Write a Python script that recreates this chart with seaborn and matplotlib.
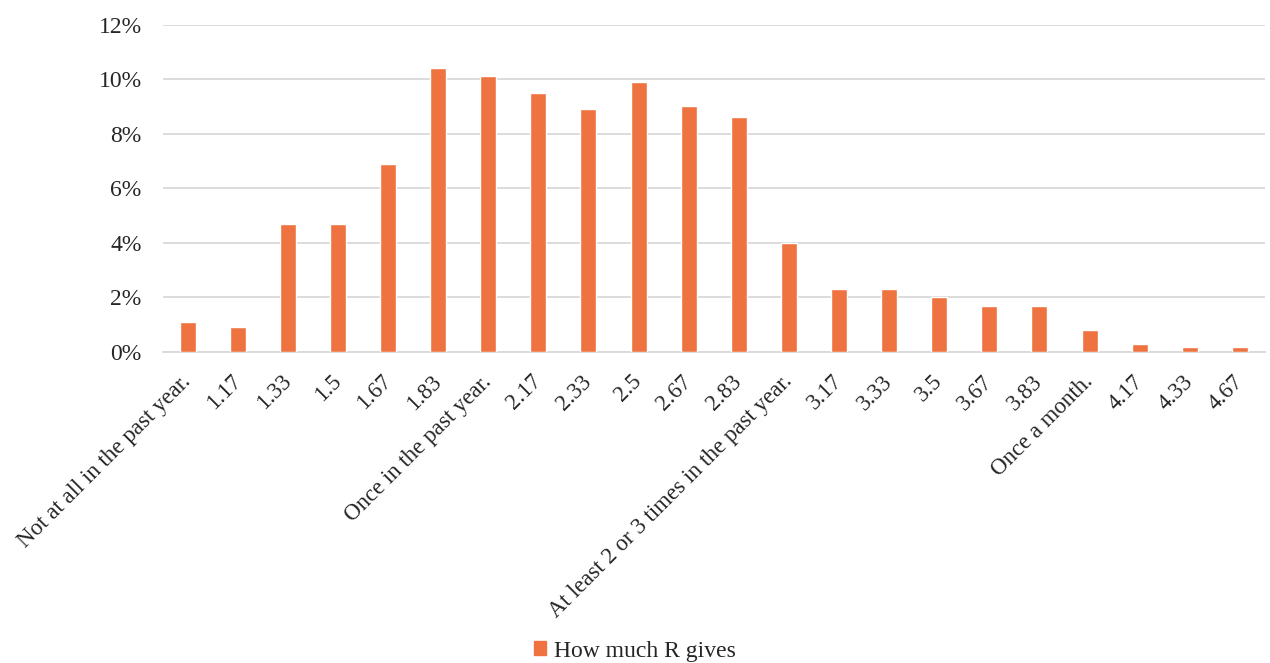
import matplotlib
matplotlib.use("Agg")
import matplotlib.pyplot as plt
import seaborn as sns
import pandas as pd
from matplotlib.ticker import PercentFormatter
from matplotlib.patches import Patch

categories = ["Not at all in the past year.", "1.17", "1.33", "1.5", "1.67", "1.83",
              "Once in the past year.", "2.17", "2.33", "2.5", "2.67", "2.83",
              "At least 2 or 3 times in the past year.", "3.17", "3.33", "3.5", "3.67",
              "3.83", "Once a month.", "4.17", "4.33", "4.67"]
share = [1.1, 0.9, 4.7, 4.7, 6.9, 10.4, 10.1, 9.5, 8.9, 9.9, 9.0, 8.6,
         4.0, 2.3, 2.3, 2.0, 1.7, 1.7, 0.8, 0.3, 0.2, 0.2]
series_name = "How much R gives"

bar_color = "#EE7340"
grid_color = "#D9D9D9"

sns.set_style("white")
plt.rcParams["font.family"] = ["Liberation Serif", "DejaVu Serif"]

df = pd.DataFrame({"category": categories, "share": share})

fig = plt.figure(figsize=(12.7, 6.63), dpi=100)
ax = fig.add_axes([0.128, 0.469, 0.868, 0.494])

sns.barplot(data=df, x="category", y="share", color=bar_color, width=0.32,
            saturation=1, ax=ax, zorder=3)

ax.set_ylim(0, 12)
ax.set_xlim(-0.5, len(categories) - 0.5)
ax.set_yticks(range(0, 13, 2))
ax.yaxis.set_major_formatter(PercentFormatter(decimals=0))
ax.grid(axis="y", color=grid_color, linewidth=1.3, zorder=0)
for s in ["top", "right", "left"]:
    ax.spines[s].set_visible(False)
ax.spines["bottom"].set_color(grid_color)
ax.spines["bottom"].set_linewidth(1.3)
ax.tick_params(axis="y", length=0, labelsize=17, colors="#262626", pad=15)
ax.tick_params(axis="x", length=0, labelsize=16.5, colors="#262626", pad=19)
ax.set_xlabel("")
ax.set_ylabel("")
plt.setp(ax.get_xticklabels(), rotation=45, ha="right", va="center",
         rotation_mode="anchor")

fig.legend(handles=[Patch(color=bar_color, label=series_name)],
           loc="center", bbox_to_anchor=(0.5, 0.018), frameon=False,
           fontsize=17, handlelength=0.5, handleheight=0.5, handletextpad=0.35)

fig.savefig("out.png", dpi=100)
